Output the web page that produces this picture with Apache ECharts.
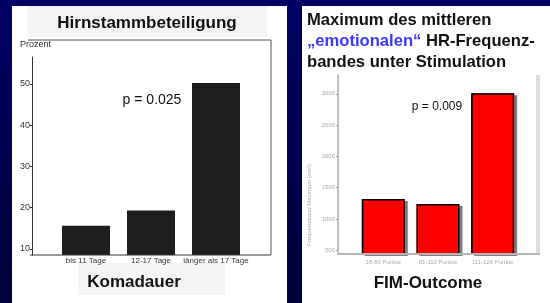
<!DOCTYPE html>
<html>
<head>
<meta charset="utf-8">
<script src="https://cdn.jsdelivr.net/npm/echarts@6/dist/echarts.min.js"></script>
<style>html,body{margin:0;padding:0;}#c{width:550px;height:303px;}</style>
</head>
<body>
<div id="c"></div>
<script>
const leftCategories = ['bis 11 Tage', '12-17 Tage', 'länger als 17 Tage'];
const leftValues = [15.6, 19.3, 50.2];
const leftTicks = [10, 20, 30, 40, 50];
const rightCategories = ['18-80 Punkte', '81-110 Punkte', '111-126 Punkte'];
const rightValues = [1320, 1240, 3010];
const rightTicks = [500, 1000, 1500, 2000, 2500, 3000];

const F = 'Liberation Sans, Arial, sans-serif';
const FN = 'Liberation Sans Narrow, Liberation Sans, Arial, sans-serif';

const chart = echarts.init(document.getElementById('c'), null, {renderer: 'canvas'});

const line = (x1, y1, x2, y2, color, w) => ({
  type: 'line', z: 5, shape: {x1, y1, x2, y2}, style: {stroke: color, lineWidth: w}
});

chart.setOption({
  animation: false,
  backgroundColor: {
    type: 'linear', x: 0, y: 0, x2: 0, y2: 1,
    colorStops: [{offset: 0, color: '#000064'}, {offset: 1, color: '#00003a'}]
  },
  graphic: [
    {type: 'rect', z: -10, shape: {x: 12, y: 6, width: 275, height: 297}, style: {fill: '#ffffff'}},
    {type: 'rect', z: -10, shape: {x: 302, y: 6, width: 248, height: 297}, style: {fill: '#ffffff'}},
    {type: 'rect', z: -9, shape: {x: 27, y: 6, width: 240, height: 31}, style: {fill: '#f4f4f4'}},
    {type: 'rect', z: -9, shape: {x: 78, y: 263, width: 147, height: 32}, style: {fill: '#f4f4f4'}},
    {type: 'text', z: 10, style: {x: 147, y: 23, text: 'Hirnstammbeteiligung', font: 'bold 17px ' + F, fill: '#111', align: 'center', verticalAlign: 'middle'}},
    {type: 'text', z: 10, style: {x: 134, y: 282, text: 'Komadauer', font: 'bold 17px ' + F, fill: '#111', align: 'center', verticalAlign: 'middle'}},
    {type: 'text', z: 10, style: {x: 20, y: 45, text: 'Prozent', font: '9px ' + FN, fill: '#333', align: 'left', verticalAlign: 'middle'}},
    {type: 'text', z: 10, style: {x: 152, y: 100, text: 'p = 0.025', font: '14px ' + F, fill: '#111', align: 'center', verticalAlign: 'middle'}},
    line(28, 40, 271, 40, '#555', 1),
    line(271, 40, 271, 255, '#555', 1),
    line(30, 255, 271, 255, '#333', 1),
    {type: 'text', z: 10, style: {
      x: 307, y: 10, text: 'Maximum des mittleren\n{b|„emotionalen“} HR-Frequenz-\nbandes unter Stimulation',
      font: 'bold 16.6px ' + F, fill: '#111', lineHeight: 21, align: 'left', verticalAlign: 'top',
      rich: {b: {fill: '#3a3aff', font: 'bold 16.6px ' + F}}
    }},
    {type: 'text', z: 10, style: {x: 428, y: 283, text: 'FIM-Outcome', font: 'bold 17px ' + F, fill: '#111', align: 'center', verticalAlign: 'middle'}},
    {type: 'text', z: 10, style: {x: 437, y: 107, text: 'p = 0.009', font: '12px ' + F, fill: '#111', align: 'center', verticalAlign: 'middle'}},
    {type: 'text', z: 10, rotation: Math.PI / 2, x: 309, y: 205, style: {x: 0, y: 0, text: 'Frequenzband Maximum (ms²)', font: '6px ' + F, fill: '#aaa', align: 'center', verticalAlign: 'middle'}},
    line(338, 254, 540, 254, '#b4b4b4', 2),
    {type: 'rect', z: -5, shape: {x: 536, y: 75, width: 4, height: 180}, style: {fill: '#dedede'}}
  ],
  grid: [
    {left: 53.5, right: 301.5, top: 57, bottom: 48},
    {left: 356, right: 30, top: 75, bottom: 49}
  ],
  xAxis: [
    {
      gridIndex: 0, type: 'category', data: leftCategories,
      axisLine: {show: false}, axisTick: {show: false},
      axisLabel: {fontSize: 8, fontFamily: FN, color: '#333', margin: 2, interval: 0}
    },
    {
      gridIndex: 1, type: 'category', data: rightCategories,
      axisLine: {show: false}, axisTick: {show: false},
      axisLabel: {fontSize: 6, fontFamily: F, color: '#aaa', margin: 5, interval: 0}
    }
  ],
  yAxis: [
    {
      gridIndex: 0, type: 'value', min: 8.5, max: 56.5, offset: 21.5,
      splitLine: {show: false},
      axisLine: {show: true, lineStyle: {color: '#333', width: 1}},
      axisTick: {show: true, length: 2, customValues: leftTicks, lineStyle: {color: '#333'}},
      axisLabel: {customValues: leftTicks, fontSize: 9, fontFamily: FN, color: '#333', margin: 2}
    },
    {
      gridIndex: 1, type: 'value', min: 440, max: 3300, offset: 18,
      splitLine: {show: false},
      axisLine: {show: true, lineStyle: {color: '#c0c0c0', width: 2}},
      axisTick: {show: true, length: 2, customValues: rightTicks, lineStyle: {color: '#aaa'}},
      axisLabel: {customValues: rightTicks, fontSize: 6, fontFamily: F, color: '#aaa', margin: 3,
        formatter: v => String(v)}
    }
  ],
  series: [
    {
      type: 'bar', xAxisIndex: 0, yAxisIndex: 0, data: leftValues, barWidth: 48,
      itemStyle: {color: '#1e1e1e'}
    },
    {
      type: 'bar', xAxisIndex: 1, yAxisIndex: 1, data: rightValues, barWidth: 43,
      itemStyle: {color: '#ff0000', shadowColor: 'rgba(0,0,0,0.5)', shadowOffsetX: 3, shadowOffsetY: 2, shadowBlur: 0}
    },
    {
      type: 'bar', xAxisIndex: 1, yAxisIndex: 1, data: rightValues, barWidth: 43, barGap: '-100%', z: 3,
      itemStyle: {color: 'rgba(0,0,0,0)', borderColor: '#000', borderWidth: 1.5}
    }
  ]
});
</script>
</body>
</html>
